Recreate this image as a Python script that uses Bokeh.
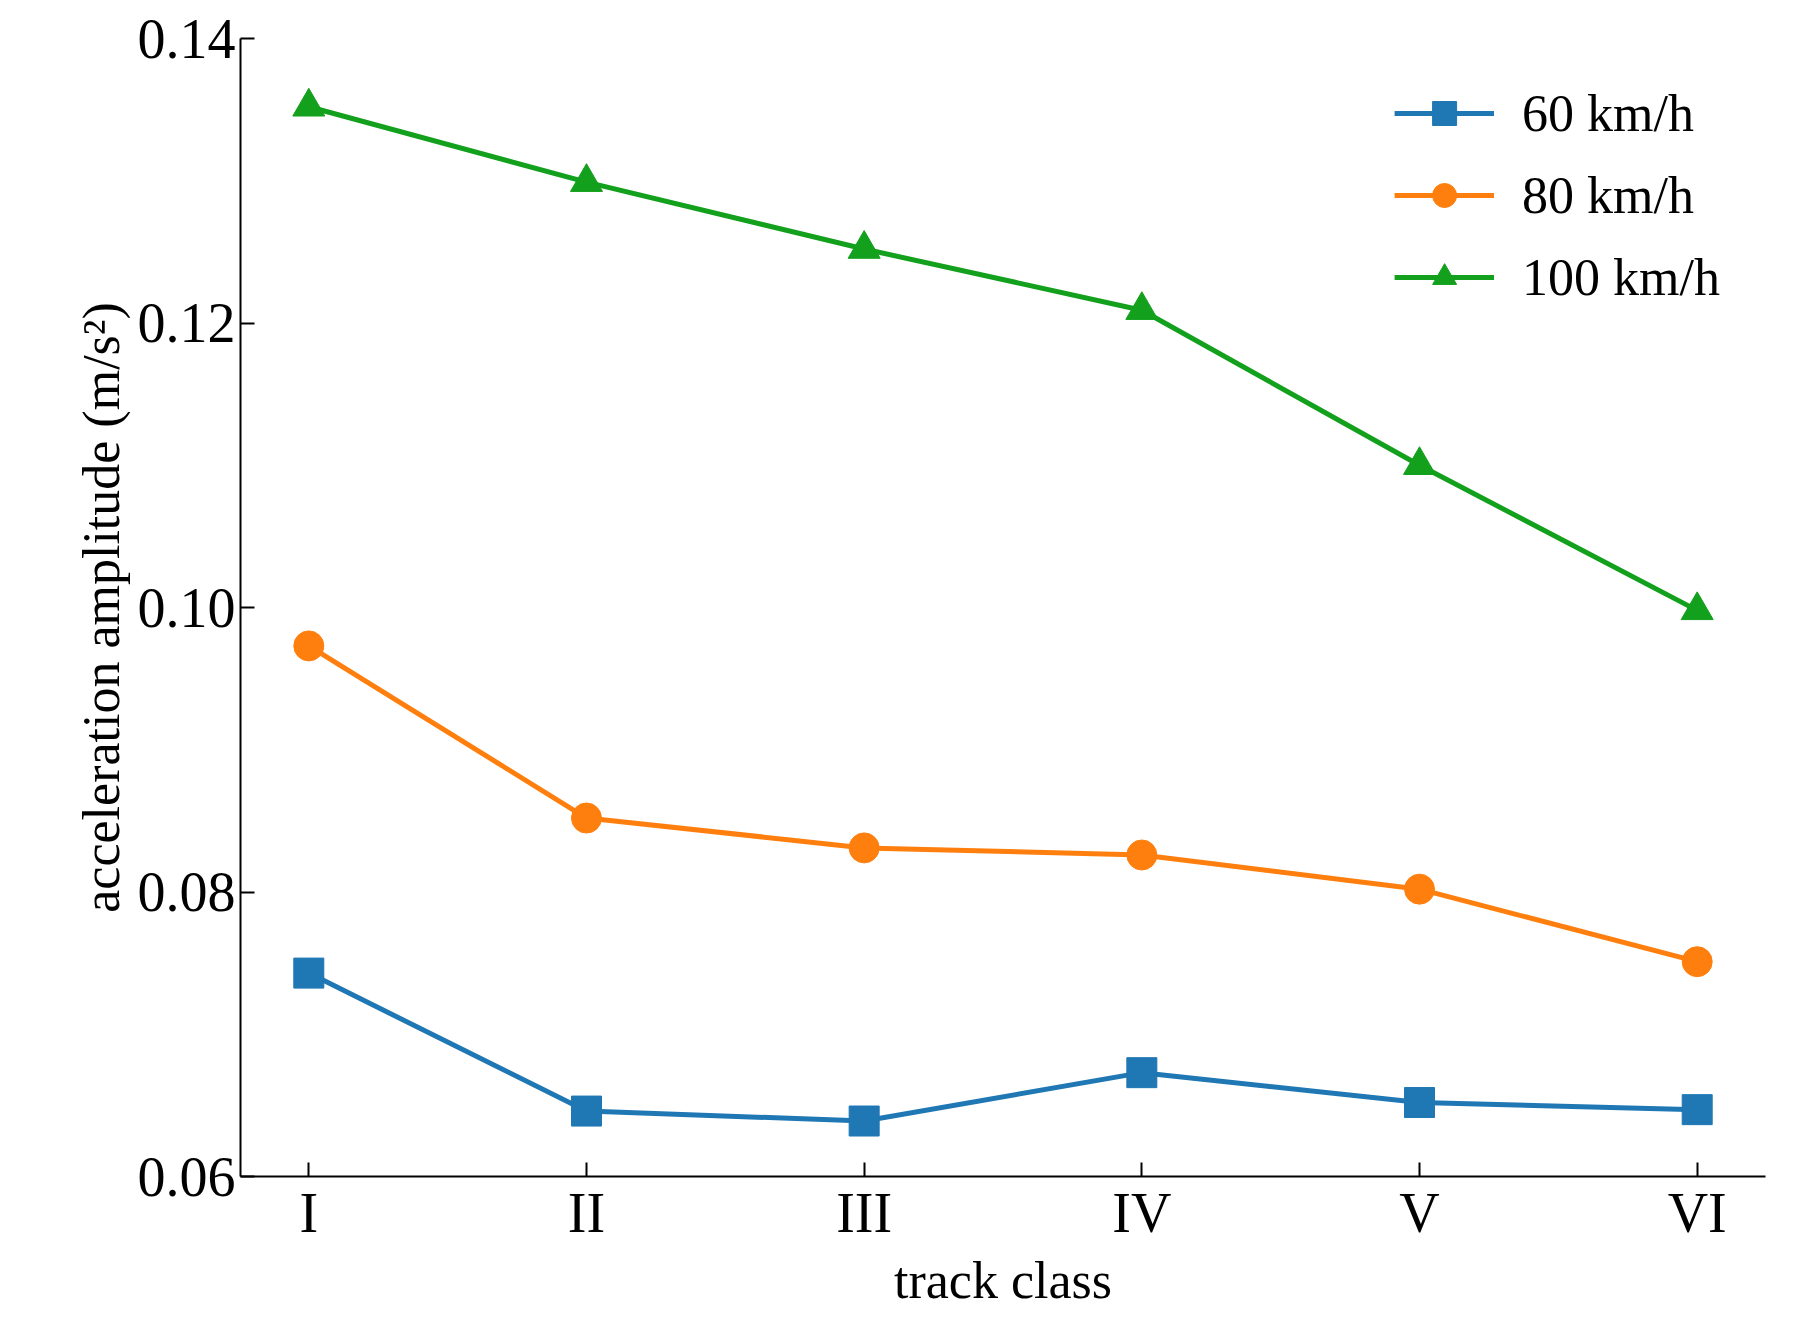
from bokeh.plotting import figure
from bokeh.embed import file_html
from bokeh.resources import INLINE
from bokeh.models import Range1d, Legend, LegendItem, FixedTicker

classes = ["I", "II", "III", "IV", "V", "VI"]
x = [1, 2, 3, 4, 5, 6]
v60 = [0.0743, 0.0646, 0.0639, 0.0673, 0.0652, 0.0647]
v80 = [0.0973, 0.0852, 0.0831, 0.0826, 0.0802, 0.0751]
v100 = [0.1352, 0.1299, 0.1252, 0.1209, 0.1100, 0.0998]

p = figure(width=1785, height=1311, output_backend="svg", toolbar_location=None,
           x_range=Range1d(0.754, 6.246), y_range=Range1d(0.06, 0.14),
           min_border_left=240, min_border_right=20, min_border_top=38, min_border_bottom=130)
p.outline_line_color = None
p.grid.visible = False
font = "Liberation Serif"
for ax in (p.xaxis[0], p.yaxis[0]):
    ax.axis_line_color = "black"
    ax.axis_line_width = 2
    ax.major_tick_in = 14
    ax.major_tick_out = 0
    ax.minor_tick_in = 0
    ax.minor_tick_out = 0
    ax.major_tick_line_width = 2
    ax.major_label_text_font = font
    ax.major_label_text_font_size = "56px"
    ax.major_label_text_color = "black"
    ax.axis_label_text_font = font
    ax.axis_label_text_font_size = "52px"
    ax.axis_label_text_font_style = "normal"
    ax.axis_label_text_color = "black"
p.xaxis.ticker = FixedTicker(ticks=x)
p.xaxis.major_label_overrides = {i: c for i, c in zip(x, classes)}
p.yaxis.ticker = FixedTicker(ticks=[0.06, 0.08, 0.10, 0.12, 0.14])
p.yaxis.major_label_overrides = {0.06: "0.06", 0.08: "0.08", 0.1: "0.10", 0.12: "0.12", 0.14: "0.14"}
p.xaxis.axis_label = "track class"
p.yaxis.axis_label = "acceleration amplitude (m/s²)"

c1, c2, c3 = "#1f77b4", "#ff7f0e", "#13a01d"
l1 = p.line(x, v60, color=c1, line_width=5)
m1 = p.scatter(x, v60, marker="square", size=30, color=c1)
l2 = p.line(x, v80, color=c2, line_width=5)
m2 = p.scatter(x, v80, marker="circle", size=30, color=c2)
l3 = p.line(x, v100, color=c3, line_width=5)
m3 = p.scatter(x, v100, marker="triangle", size=32, color=c3)

leg = Legend(items=[LegendItem(label="60 km/h", renderers=[l1, m1]),
                    LegendItem(label="80 km/h", renderers=[l2, m2]),
                    LegendItem(label="100 km/h", renderers=[l3, m3])],
             location="top_right", border_line_color=None, background_fill_alpha=0,
             label_text_font=font, label_text_font_size="52px", label_text_color="black",
             glyph_width=100, glyph_height=60, spacing=22, label_standoff=28, margin=45)
p.add_layout(leg)

open("out.html", "w").write(file_html(p, INLINE))
